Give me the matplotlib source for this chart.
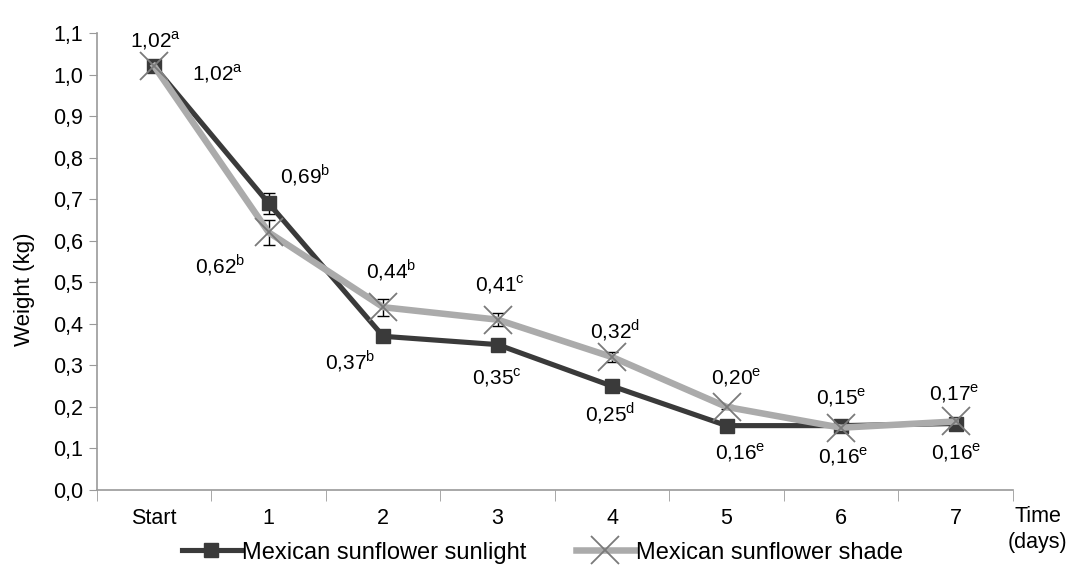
import matplotlib.pyplot as plt

plt.rcParams["font.family"] = ["Liberation Sans", "DejaVu Sans"]
plt.rcParams["mathtext.fontset"] = "custom"
plt.rcParams["mathtext.rm"] = "Liberation Sans"

days = ["Start", "1", "2", "3", "4", "5", "6", "7"]
sunlight = [1.02, 0.69, 0.37, 0.35, 0.25, 0.155, 0.155, 0.16]
shade = [1.02, 0.62, 0.44, 0.41, 0.32, 0.20, 0.15, 0.165]
sunlight_err = [0.012, 0.025, 0.005, 0.005, 0.005, 0.005, 0.005, 0.005]
shade_err = [0.012, 0.03, 0.02, 0.015, 0.012, 0.005, 0.005, 0.005]
sunlight_labels = ["1,02", "0,69", "0,37", "0,35", "0,25", "0,16", "0,16", "0,16"]
sunlight_letters = ["a", "b", "b", "c", "d", "e", "e", "e"]
shade_labels = ["1,02", "0,62", "0,44", "0,41", "0,32", "0,20", "0,15", "0,17"]
shade_letters = ["a", "b", "b", "c", "d", "e", "e", "e"]

# label offsets in pixels (dx, dy)
sun_off = [(63, -7), (36, 28), (-33, -25), (-1, -33), (-2, -27), (14, -27), (2, -31), (1, -29)]
shade_off = [(1, 26), (-49, -33), (8, 37), (2, 35), (3, 27), (10, 29), (0, 30), (-1, 28)]

fig = plt.figure(figsize=(10.74, 5.69), dpi=100)
ax = fig.add_axes([0.0903, 0.1388, 0.8527, 0.8032])

x = list(range(len(days)))
ax.errorbar(x, sunlight, yerr=sunlight_err, fmt="none", ecolor="black", elinewidth=1, capsize=4, zorder=2)
ax.errorbar(x, shade, yerr=shade_err, fmt="none", ecolor="black", elinewidth=1, capsize=4, zorder=2)
ax.plot(x, sunlight, color="#3a3a3a", lw=3.7, marker="s", markersize=10,
        label="Mexican sunflower sunlight", zorder=3)
ax.plot(x, shade, color="#ababab", lw=4.7, marker="x", markersize=20, markeredgewidth=1.3,
        markeredgecolor="#7a7a7a", label="Mexican sunflower shade", zorder=4)

for i in x:
    dx, dy = sun_off[i]
    ax.annotate(sunlight_labels[i] + r"$^{\mathrm{" + sunlight_letters[i] + "}}$", (i, sunlight[i]),
                xytext=(dx * 0.72, dy * 0.72), textcoords="offset points",
                ha="center", va="center", fontsize=15)
    dx, dy = shade_off[i]
    ax.annotate(shade_labels[i] + r"$^{\mathrm{" + shade_letters[i] + "}}$", (i, shade[i]),
                xytext=(dx * 0.72, dy * 0.72), textcoords="offset points",
                ha="center", va="center", fontsize=15)

ax.set_xlim(-0.5, 7.5)
ax.set_ylim(0, 1.1)
ax.set_yticks([i / 10 for i in range(12)])
ax.set_yticklabels([f"{i / 10:.1f}".replace(".", ",") for i in range(12)], fontsize=15.5)
ax.set_xticks(x)
ax.set_xticklabels(days, fontsize=15.5)
ax.set_xticks([i - 0.5 for i in range(9)], minor=True)
ax.tick_params(axis="x", which="major", length=0, pad=13)
ax.tick_params(axis="x", which="minor", length=8, color="#9a9a9a", direction="out")
ax.tick_params(axis="y", length=6, color="#9a9a9a", pad=4)
for s in ["top", "right"]:
    ax.spines[s].set_visible(False)
for s in ["left", "bottom"]:
    ax.spines[s].set_color("#9a9a9a")
    ax.spines[s].set_linewidth(1.2)

ax.set_ylabel("Weight (kg)", fontsize=16)
ax.yaxis.set_label_coords(-0.068, 0.44)
fig.text(0.966, 0.07, "Time\n(days)", ha="center", va="center", fontsize=15.5, linespacing=1.3)

fig.legend(loc="lower center", bbox_to_anchor=(0.505, -0.028), ncol=2, frameon=False, fontsize=17,
           handlelength=2.5, handletextpad=0.05, columnspacing=2.1)

fig.savefig("out.png", dpi=100)
